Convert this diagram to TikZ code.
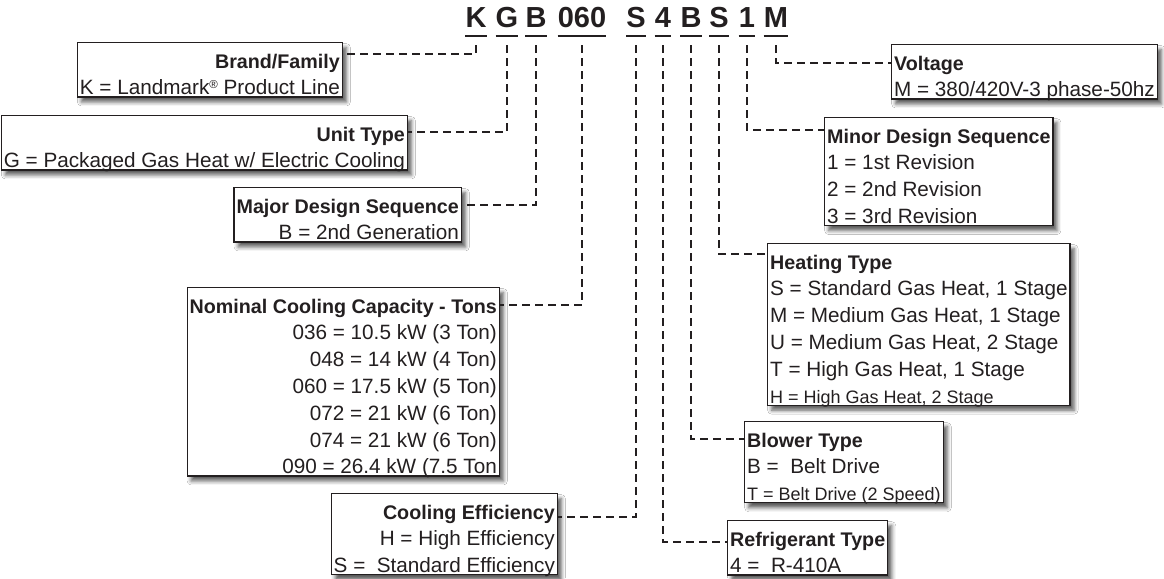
\documentclass[tikz,border=0pt]{standalone}
\usepackage{fontspec}
\setmainfont{Liberation Sans}
\usetikzlibrary{shadows.blur}
\definecolor{ink}{HTML}{231F20}
\newcommand{\ttl}[1]{\rule{0pt}{23.5pt}{\fontsize{19.7}{26.8}\selectfont\bfseries #1}}
\newcommand{\sml}[1]{{\fontsize{18}{26.8}\selectfont #1}}
\newcommand{\regmark}{\raisebox{6.5pt}{\fontsize{11.5}{11.5}\selectfont ®}}

\begin{document}
\begin{tikzpicture}[x=1pt, y=-1pt,
  code/.style={font=\fontsize{29}{30}\selectfont\bfseries, text=ink, anchor=base, inner sep=0pt, text depth=0pt},
  uline/.style={ink, line width=2.2pt},
  conn/.style={ink, line width=2pt, dash pattern=on 8pt off 5pt},
  box/.style={draw=ink, line width=1.3pt, fill=white, text=ink, inner xsep=2.5pt, inner ysep=2pt, text depth=0pt,
    font=\fontsize{20.7}{26.8}\selectfont,
    blur shadow={shadow xshift=4pt, shadow yshift=-5pt, shadow blur radius=4pt, shadow opacity=65}},
  lbox/.style={box, align=right, anchor=north east},
  rbox/.style={box, align=left, anchor=north west}]
\useasboundingbox[fill=white] (0,0) rectangle (1164,578);

\node[code] (cK) at (476,28) {K};       \draw[uline] ([yshift=-8pt]cK.south west) -- ([yshift=-8pt]cK.south east);
\node[code] (cG) at (507,28) {G};       \draw[uline] ([yshift=-8pt]cG.south west) -- ([yshift=-8pt]cG.south east);
\node[code] (cB) at (536,28) {B};       \draw[uline] ([yshift=-8pt]cB.south west) -- ([yshift=-8pt]cB.south east);
\node[code] (cCap) at (582,28) {060};   \draw[uline] ([yshift=-8pt]cCap.south west) -- ([yshift=-8pt]cCap.south east);
\node[code] (cEff) at (636,28) {S};     \draw[uline] ([yshift=-8pt]cEff.south west) -- ([yshift=-8pt]cEff.south east);
\node[code] (cRef) at (663,28) {4};     \draw[uline] ([yshift=-8pt]cRef.south west) -- ([yshift=-8pt]cRef.south east);
\node[code] (cBlw) at (691,28) {B};     \draw[uline] ([yshift=-8pt]cBlw.south west) -- ([yshift=-8pt]cBlw.south east);
\node[code] (cHeat) at (719,28) {S};    \draw[uline] ([yshift=-8pt]cHeat.south west) -- ([yshift=-8pt]cHeat.south east);
\node[code] (cMin) at (747,28) {1};     \draw[uline] ([yshift=-8pt]cMin.south west) -- ([yshift=-8pt]cMin.south east);
\node[code] (cV) at (776,28) {M};       \draw[uline] ([yshift=-8pt]cV.south west) -- ([yshift=-8pt]cV.south east);

\node[lbox] (brand) at (343,42) {\ttl{Brand/Family}\\K = Landmark\regmark{} Product Line};
\node[lbox] (unit) at (408,115) {\ttl{Unit Type}\\G = Packaged Gas Heat w/ Electric Cooling};
\node[lbox] (major) at (462,187) {\ttl{Major Design Sequence}\\B = 2nd Generation};
\node[lbox] (cap) at (500,287) {\ttl{Nominal Cooling Capacity - Tons}\\036 = 10.5 kW (3 Ton)\\048 = 14 kW (4 Ton)\\060 = 17.5 kW (5 Ton)\\072 = 21 kW (6 Ton)\\074 = 21 kW (6 Ton)\\090 = 26.4 kW (7.5 Ton};
\node[lbox] (eff) at (558,493) {\ttl{Cooling Efficiency}\\H = High Efficiency\\S = \ Standard Efficiency};
\node[rbox] (volt) at (891,44) {\ttl{Voltage}\\M = 380/420V-3 phase-50hz};
\node[rbox] (minor) at (824,117) {\ttl{Minor Design Sequence}\\1 = 1st Revision\\2 = 2nd Revision\\3 = 3rd Revision};
\node[rbox] (heat) at (767,243) {\ttl{Heating Type}\\S = Standard Gas Heat, 1 Stage\\M = Medium Gas Heat, 1 Stage\\U = Medium Gas Heat, 2 Stage\\T = High Gas Heat, 1 Stage\\\sml{H = High Gas Heat, 2 Stage}};
\node[rbox] (blow) at (744,421) {\ttl{Blower Type}\\B = \ Belt Drive\\\sml{T = Belt Drive (2 Speed)}};
\node[rbox] (refr) at (727,520) {\ttl{Refrigerant Type}\\4 = \ R-410A};

\draw[conn] ([yshift=-17pt]cK.south) |- ([yshift=-12pt]brand.north east);
\draw[conn] ([yshift=-17pt]cG.south) |- ([yshift=-17pt]unit.north east);
\draw[conn] ([yshift=-17pt]cB.south) |- ([yshift=-18pt]major.north east);
\draw[conn] ([yshift=-17pt]cCap.south) |- ([yshift=-18pt]cap.north east);
\draw[conn] ([yshift=-17pt]cEff.south) |- ([yshift=-24pt]eff.north east);
\draw[conn] ([yshift=-17pt]cRef.south) |- ([yshift=-22pt]refr.north west);
\draw[conn] ([yshift=-17pt]cBlw.south) |- ([yshift=-18pt]blow.north west);
\draw[conn] ([yshift=-17pt]cHeat.south) |- ([yshift=-11pt]heat.north west);
\draw[conn] ([yshift=-17pt]cMin.south) |- ([yshift=-13pt]minor.north west);
\draw[conn] ([yshift=-17pt]cV.south) |- ([yshift=-19pt]volt.north west);
\end{tikzpicture}
\end{document}
